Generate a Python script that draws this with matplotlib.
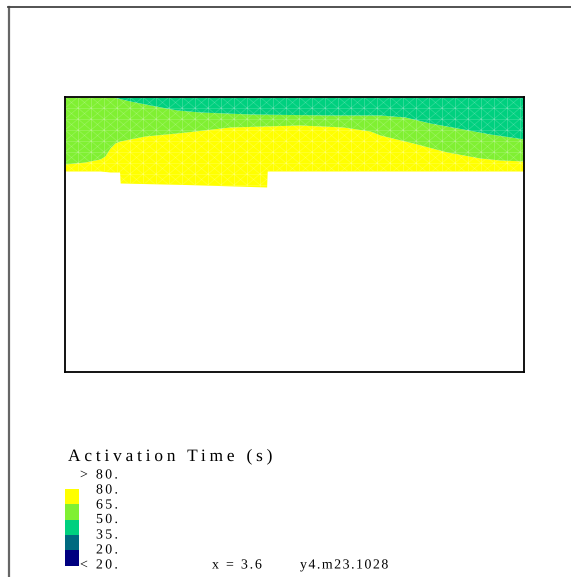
import matplotlib
matplotlib.use("Agg")
import matplotlib.pyplot as plt
import numpy as np
from matplotlib.lines import Line2D
from matplotlib.path import Path
from matplotlib.patches import Polygon
from matplotlib.transforms import Affine2D
from matplotlib.patheffects import AbstractPathEffect
from matplotlib.font_manager import FontProperties

# ---- data (x along the section, y height, pixel-like units) ----
level_labels = ["> 80.", "80.", "65.", "50.", "35.", "20.", "< 20."]
level_colors = ["#ffff00", "#80f032", "#00d07f", "#006a80", "#000080"]  # 65-80, 50-65, 35-50, 20-35, <20
title = "Activation Time (s)"
info_x = "x = 3.6"
info_id = "y4.m23.1028"

# boundary between 35-50 band and 50-65 band (x, y) ; domain top is y = 275
teal_x = [48, 65, 85, 112, 135, 185, 265, 315, 340, 365, 398, 425, 459]
teal_y = [275, 271, 267, 262, 260, 258, 257, 257, 255, 249, 243, 238, 233]
# boundary between 50-65 band and 65-80 band
green_x = [0, 20, 35, 40, 45, 50, 55, 60, 80, 112, 165, 235, 278, 305, 315, 348, 382, 415, 435, 459]
green_y = [208, 210, 213, 216, 224, 229, 231, 232, 236, 239, 245, 247, 245, 241, 237, 229, 220, 214, 212, 211]
# lower boundary of the activated region (65-80 band)
bottom_x = [0, 35, 45, 54.9, 55, 120, 201.9, 202, 459]
bottom_y = [201, 201, 200, 200, 189, 187.5, 185, 201, 201]
domain_w, domain_h = 459, 275
mesh_dx, mesh_dy = 13.0, 11.0


class Tracking(AbstractPathEffect):
    """Draw text with extra letter spacing (in pixels)."""

    def __init__(self, text, prop, spacing):
        super().__init__()
        self.text = text
        self.prop = prop
        self.spacing = spacing

    def draw_path(self, renderer, gc, tpath, affine, rgbFace=None):
        verts = affine.transform(tpath.vertices)
        codes = tpath.codes
        x0 = affine.transform(np.array([[0.0, 0.0]]))[0, 0]
        bounds = [0.0]
        for k in range(1, len(self.text) + 1):
            w, _, _ = renderer.get_text_width_height_descent(self.text[:k], self.prop, ismath=False)
            bounds.append(w)
        bounds = np.array(bounds)
        new = verts.copy()
        if codes is None:
            renderer.draw_path(gc, Path(new), Affine2D(), rgbFace)
            return
        starts = list(np.where(codes == Path.MOVETO)[0]) + [len(codes)]
        for a, b in zip(starts[:-1], starts[1:]):
            seg = verts[a:b]
            cx = 0.5 * (seg[:, 0].min() + seg[:, 0].max()) - x0
            k = int(np.clip(np.searchsorted(bounds, cx) - 1, 0, len(self.text) - 1))
            new[a:b, 0] += k * self.spacing
        renderer.draw_path(gc, Path(new, codes), Affine2D(), rgbFace)


fig = plt.figure(figsize=(5.71, 5.77), dpi=100)
W, H = 571, 577


def fx(px):
    return px / W


def fy(py):
    return 1 - py / H


ax = fig.add_axes([fx(65), fy(372), 459 / W, 275 / H])
ax.set_xlim(0, domain_w)
ax.set_ylim(0, domain_h)
ax.set_xticks([])
ax.set_yticks([])
for s in ax.spines.values():
    s.set_linewidth(1.3)
    s.set_color("black")

xs = np.linspace(0, domain_w, 800)
top = np.full_like(xs, domain_h)
tb = np.minimum(np.interp(xs, teal_x, teal_y), top)
gb = np.interp(xs, green_x, green_y)
bb = np.interp(xs, bottom_x, bottom_y)

ax.fill_between(xs, bb, gb, color=level_colors[0], lw=0)
ax.fill_between(xs, gb, tb, color=level_colors[1], lw=0)
ax.fill_between(xs, tb, top, color=level_colors[2], lw=0)

# faint finite-element mesh over the computed region
region = Polygon(np.column_stack([np.r_[xs, xs[::-1]], np.r_[bb, top[::-1]]]),
                 closed=True, transform=ax.transData, facecolor="none", edgecolor="none")
ax.add_patch(region)
mx = np.arange(0, domain_w + mesh_dx, mesh_dx)
my = np.arange(domain_h, 180, -mesh_dy)
mesh_lines = []
for x in mx:
    mesh_lines.append(ax.plot([x, x], [180, domain_h], color="white", lw=0.6, alpha=0.22)[0])
for y in my:
    mesh_lines.append(ax.plot([0, domain_w], [y, y], color="white", lw=0.6, alpha=0.18)[0])
for x in mx[:-1]:
    for y in my[:-1]:
        mesh_lines.append(ax.plot([x, x + mesh_dx], [y, y - mesh_dy], color="white", lw=0.5, alpha=0.2)[0])
        mesh_lines.append(ax.plot([x, x + mesh_dx], [y - mesh_dy, y], color="white", lw=0.5, alpha=0.2)[0])
for ln in mesh_lines:
    ln.set_clip_path(region)

# ---- outer frame ----
fig.add_artist(Line2D([fx(8.5), fx(8.5)], [fy(7), fy(577)], color="#666666", lw=1.6))
fig.add_artist(Line2D([fx(8), fx(571)], [fy(7), fy(7)], color="#444444", lw=1.3))

serif = ["Liberation Serif", "DejaVu Serif"]


def tracked_text(px, py, s, size, spacing):
    prop = FontProperties(family=serif, size=size)
    t = fig.text(fx(px), fy(py), s, fontproperties=prop, va="center", ha="left")
    t.set_path_effects([Tracking(s, prop, spacing)])
    return t


# ---- legend ----
tracked_text(68, 457, title, 12.5, 3.8)
sw_top = 489
sw_h = 15.3
for i, c in enumerate(level_colors):
    y0 = sw_top + i * sw_h
    fig.add_artist(plt.Rectangle((fx(65), fy(y0 + sw_h)), 14 / W, sw_h / H,
                                 transform=fig.transFigure, color=c, lw=0))
label_y = [475, 490, 505, 519.5, 535, 550, 565]
for lab, y in zip(level_labels, label_y):
    xx = 80 if lab[0] in "<>" else 96
    tracked_text(xx, y, lab, 10, 2.3)

tracked_text(212, 565, info_x, 10, 1.8)
tracked_text(300, 565, info_id, 10, 1.5)

fig.savefig("out.png", dpi=100)
